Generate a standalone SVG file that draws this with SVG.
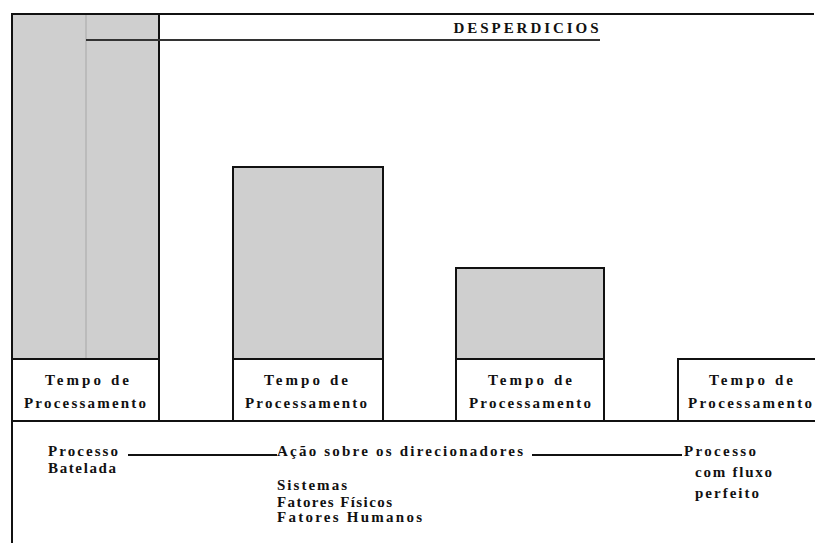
<svg xmlns="http://www.w3.org/2000/svg" width="815" height="543" viewBox="0 0 815 543">
  <style>
    .bar { fill: #cfcfcf; stroke: #111; stroke-width: 2; }
    .box { fill: #fff; stroke: #111; stroke-width: 2; }
    .ln { stroke: #111; stroke-width: 2; fill: none; }
    .t { font-family: "Liberation Serif", "Times New Roman", serif; font-weight: bold; font-size: 15px; fill: #111; }
  </style>
  <rect width="815" height="543" fill="#fff"/>

  <g id="frame">
    <line class="ln" x1="12" y1="14" x2="814" y2="14"/>
    <line class="ln" x1="12" y1="14" x2="12" y2="543"/>
    <line class="ln" x1="12" y1="421" x2="815" y2="421"/>
  </g>

  <g id="bar1">
    <rect class="bar" x="12" y="14" width="147" height="345"/>
    <line x1="86" y1="15" x2="86" y2="358" stroke="#b4b4b4" stroke-width="1.5"/>
    <rect class="box" x="12" y="359" width="147" height="62"/>
    <text class="t" x="87" y="385" text-anchor="middle" textLength="84" lengthAdjust="spacing">Tempo de</text>
    <text class="t" x="85" y="408" text-anchor="middle" textLength="122" lengthAdjust="spacing">Processamento</text>
  </g>

  <g id="desperdicios">
    <line x1="86" y1="40" x2="600" y2="40" stroke="#333" stroke-width="2"/>
    <text class="t" x="526" y="33" text-anchor="middle" textLength="145" lengthAdjust="spacing">DESPERDICIOS</text>
  </g>

  <g id="bar2">
    <rect class="bar" x="233" y="167" width="150" height="192"/>
    <rect class="box" x="233" y="359" width="150" height="62"/>
    <text class="t" x="306" y="385" text-anchor="middle" textLength="84" lengthAdjust="spacing">Tempo de</text>
    <text class="t" x="306" y="408" text-anchor="middle" textLength="122" lengthAdjust="spacing">Processamento</text>
  </g>

  <g id="bar3">
    <rect class="bar" x="456" y="268" width="148" height="91"/>
    <rect class="box" x="456" y="359" width="148" height="62"/>
    <text class="t" x="530" y="385" text-anchor="middle" textLength="84" lengthAdjust="spacing">Tempo de</text>
    <text class="t" x="530" y="408" text-anchor="middle" textLength="122" lengthAdjust="spacing">Processamento</text>
  </g>

  <g id="bar4">
    <path class="ln" d="M678 421 V359 H816"/>
    <text class="t" x="751" y="385" text-anchor="middle" textLength="84" lengthAdjust="spacing">Tempo de</text>
    <text class="t" x="750" y="408" text-anchor="middle" textLength="124" lengthAdjust="spacing">Processamento</text>
  </g>

  <g id="label-batelada">
    <text class="t" x="48" y="456" textLength="70" lengthAdjust="spacing">Processo</text>
    <text class="t" x="48" y="473" textLength="68" lengthAdjust="spacing">Batelada</text>
  </g>

  <g id="label-acao">
    <text class="t" x="277" y="456" textLength="246" lengthAdjust="spacing">Ação sobre os direcionadores</text>
    <text class="t" x="277" y="490" textLength="70" lengthAdjust="spacing">Sistemas</text>
    <text class="t" x="277" y="507" textLength="115" lengthAdjust="spacing">Fatores Físicos</text>
    <text class="t" x="277" y="522" textLength="145" lengthAdjust="spacing">Fatores Humanos</text>
  </g>

  <g id="label-fluxo">
    <text class="t" x="684" y="456" textLength="72" lengthAdjust="spacing">Processo</text>
    <text class="t" x="695" y="477" textLength="77" lengthAdjust="spacing">com fluxo</text>
    <text class="t" x="695" y="498" textLength="64" lengthAdjust="spacing">perfeito</text>
  </g>

  <g id="connectors">
    <line class="ln" x1="128" y1="455" x2="277" y2="455"/>
    <line class="ln" x1="532" y1="455" x2="682" y2="455"/>
  </g>
</svg>
